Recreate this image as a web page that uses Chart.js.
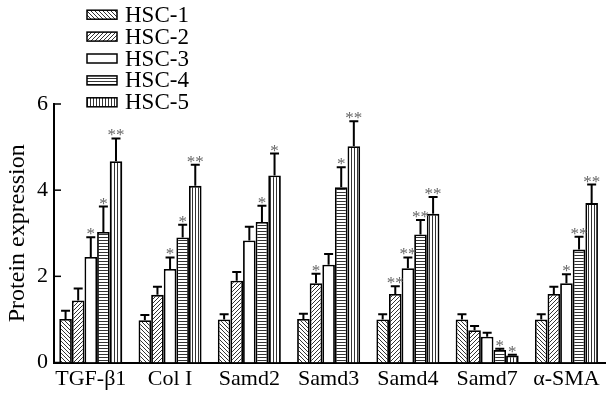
<!DOCTYPE html>
<html>
<head>
<meta charset="utf-8">
<script src="https://cdn.jsdelivr.net/npm/chart.js@4.4.0/dist/chart.umd.min.js"></script>
<style>
  html, body { margin: 0; padding: 0; background: #fff; }
  #wrap { width: 606px; height: 397px; position: relative; }
</style>
</head>
<body>
<div id="wrap"><canvas id="myBarChart"></canvas></div>
<script>
// categories on the x axis
const categories = ['TGF-β1', 'Col I', 'Samd2', 'Samd3', 'Samd4', 'Samd7', 'α-SMA'];
const seriesNames = ['HSC-1', 'HSC-2', 'HSC-3', 'HSC-4', 'HSC-5'];
const yTicks = [0, 2, 4, 6];

// mean values
const hsc1 = [1.01, 0.98, 1.00, 1.01, 1.00, 1.00, 1.00];
const hsc2 = [1.44, 1.57, 1.90, 1.84, 1.59, 0.75, 1.59];
const hsc3 = [2.45, 2.17, 2.83, 2.27, 2.19, 0.60, 1.84];
const hsc4 = [3.03, 2.90, 3.26, 4.07, 2.97, 0.29, 2.62];
const hsc5 = [4.67, 4.10, 4.34, 5.02, 3.45, 0.16, 3.70];

// upper error bars (SD)
const err1 = [0.19, 0.12, 0.12, 0.12, 0.12, 0.12, 0.12];
const err2 = [0.28, 0.19, 0.20, 0.22, 0.18, 0.10, 0.17];
const err3 = [0.46, 0.27, 0.32, 0.25, 0.25, 0.09, 0.21];
const err4 = [0.59, 0.30, 0.38, 0.46, 0.34, 0.03, 0.30];
const err5 = [0.53, 0.49, 0.51, 0.58, 0.39, 0.02, 0.43];

// significance marks
const sig1 = ['', '', '', '', '', '', ''];
const sig2 = ['', '', '', '*', '**', '', ''];
const sig3 = ['*', '*', '', '', '**', '', '*'];
const sig4 = ['*', '*', '*', '*', '**', '*', '**'];
const sig5 = ['**', '**', '*', '**', '**', '*', '**'];

const FONT = '"Liberation Serif", "Times New Roman", serif';

// hatch fills
function makePattern(kind) {
    const c = document.createElement('canvas');
    const s = (kind === 'h' || kind === 'v') ? 3 : 4;
    c.width = s; c.height = s;
    const g = c.getContext('2d');
    g.fillStyle = '#fff';
    g.fillRect(0, 0, s, s);
    if (kind === 'none') return '#fff';
    g.fillStyle = '#333';
    g.strokeStyle = '#333';
    g.lineWidth = 1;
    if (kind === 'h') {
        g.fillRect(0, 0, s, 1);
    } else if (kind === 'v') {
        g.fillRect(0, 0, 1, s);
    } else {
        g.beginPath();
        if (kind === 'back') {
            g.moveTo(-1, -1); g.lineTo(s + 1, s + 1);
            g.moveTo(s - 1, -1); g.lineTo(s + 1, 1);
            g.moveTo(-1, s - 1); g.lineTo(1, s + 1);
        } else {
            g.moveTo(-1, s + 1); g.lineTo(s + 1, -1);
            g.moveTo(-1, 1); g.lineTo(1, -1);
            g.moveTo(s - 1, s + 1); g.lineTo(s + 1, s - 1);
        }
        g.stroke();
    }
    return g.createPattern(c, 'repeat');
}

const fills = [makePattern('back'), makePattern('fwd'), makePattern('none'), makePattern('h'), makePattern('v')];
const allValues = [hsc1, hsc2, hsc3, hsc4, hsc5];
const allErrors = [err1, err2, err3, err4, err5];
const allSig = [sig1, sig2, sig3, sig4, sig5];

const datasets = seriesNames.map((name, i) => ({
    label: name,
    data: allValues[i].map((v, j) => ({x: j, y: v})),
    backgroundColor: fills[i],
    borderColor: '#000',
    borderWidth: 1.8,
    barPercentage: 1,
    categoryPercentage: 0.795
}));

// error bars, stars, inward y ticks and legend
const extras = {
    id: 'extras',
    afterDatasetsDraw(chart) {
        const ctx = chart.ctx;
        const y = chart.scales.y;
        ctx.save();
        chart.data.datasets.forEach((ds, i) => {
            const meta = chart.getDatasetMeta(i);
            meta.data.forEach((bar, j) => {
                const top = y.getPixelForValue(allValues[i][j] + allErrors[i][j]);
                ctx.strokeStyle = '#000';
                ctx.lineWidth = 2;
                ctx.beginPath();
                ctx.moveTo(bar.x, bar.y);
                ctx.lineTo(bar.x, top);
                ctx.moveTo(bar.x - 4.5, top);
                ctx.lineTo(bar.x + 4.5, top);
                ctx.stroke();
                if (allSig[i][j]) {
                    ctx.fillStyle = '#666';
                    ctx.font = '17px ' + FONT;
                    ctx.textAlign = 'center';
                    ctx.textBaseline = 'alphabetic';
                    ctx.fillText(allSig[i][j], bar.x, top + 2);
                }
            });
        });
        // tick marks pointing into the plot
        ctx.strokeStyle = '#000';
        ctx.lineWidth = 1.5;
        yTicks.forEach(t => {
            const py = y.getPixelForValue(t);
            ctx.beginPath();
            ctx.moveTo(chart.chartArea.left, py);
            ctx.lineTo(chart.chartArea.left + 7, py);
            ctx.stroke();
        });
        // legend
        chart.data.datasets.forEach((ds, i) => {
            const cy = 14.7 + i * 21.9;
            ctx.fillStyle = ds.backgroundColor;
            ctx.fillRect(87, cy - 4.5, 30, 9);
            ctx.lineWidth = 1.5;
            ctx.strokeStyle = '#000';
            ctx.strokeRect(87, cy - 4.5, 30, 9);
            ctx.fillStyle = '#000';
            ctx.font = '23px ' + FONT;
            ctx.textAlign = 'left';
            ctx.textBaseline = 'middle';
            ctx.fillText(ds.label, 125, cy + 1);
        });
        ctx.restore();
    }
};

const ctx = document.getElementById('myBarChart').getContext('2d');
const myBarChart = new Chart(ctx, {
    type: 'bar',
    data: { datasets: datasets },
    options: {
        responsive: true,
        maintainAspectRatio: false,
        animation: false,
        layout: { padding: { top: 104, left: 0, right: 0, bottom: 0 } },
        plugins: {
            legend: { display: false },
            tooltip: { enabled: false }
        },
        scales: {
            x: {
                type: 'linear',
                offset: false,
                min: -0.464,
                max: 6.499,
                afterBuildTicks: s => { s.ticks = categories.map((c, i) => ({value: i})); },
                afterFit: s => { s.height = 34.5; },
                grid: { display: false, drawTicks: false, offset: false },
                border: { color: '#000', width: 2 },
                ticks: {
                    autoSkip: false,
                    maxRotation: 0,
                    padding: 4,
                    color: '#000',
                    font: { family: FONT, size: 22 },
                    callback: v => categories[v]
                }
            },
            y: {
                min: 0,
                max: 6,
                afterBuildTicks: s => { s.ticks = yTicks.map(v => ({value: v})); },
                afterFit: s => { s.width = 54; },
                grid: { display: false, drawTicks: false },
                border: { color: '#000', width: 2 },
                ticks: {
                    padding: 6,
                    color: '#000',
                    font: { family: FONT, size: 22 }
                },
                title: {
                    display: true,
                    text: 'Protein expression',
                    color: '#000',
                    font: { family: FONT, size: 24 },
                    padding: { top: 3, bottom: 0 }
                }
            }
        }
    },
    plugins: [extras]
});
</script>
</body>
</html>
